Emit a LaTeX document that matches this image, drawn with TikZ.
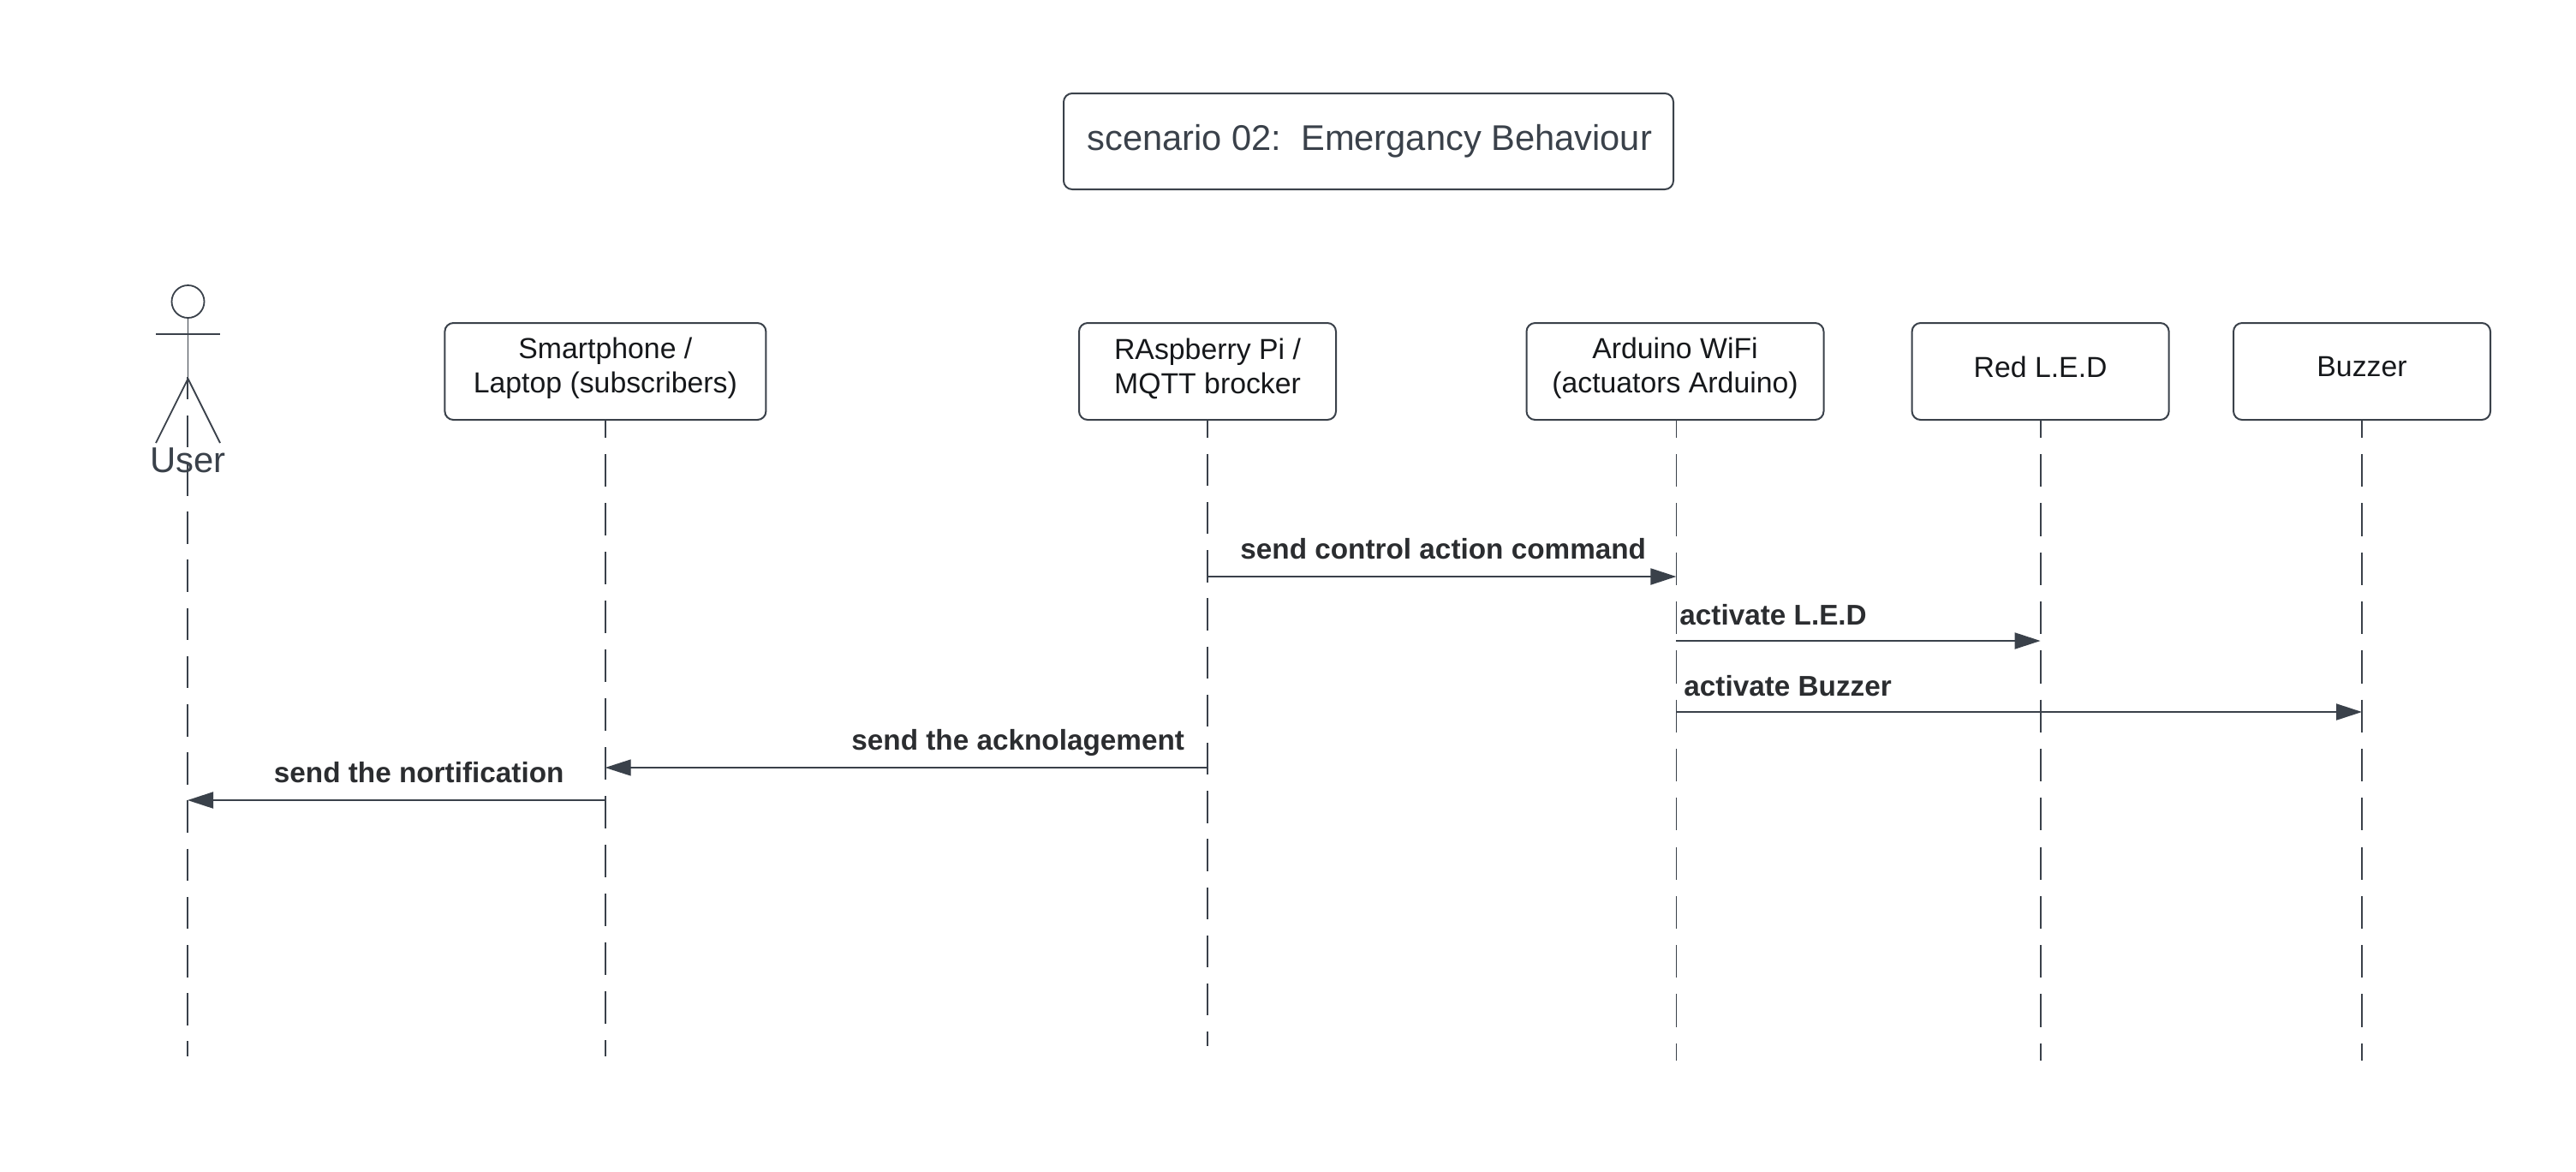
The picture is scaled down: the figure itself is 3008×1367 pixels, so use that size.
\documentclass[tikz,border=0pt]{standalone}
\usepackage{fontspec}
\setmainfont{Liberation Sans}
\usetikzlibrary{arrows.meta}
\definecolor{ink}{HTML}{3A414A}
\definecolor{boxtext}{HTML}{16181B}
\definecolor{msgtext}{HTML}{2B2D30}
\tikzset{
  px/.style={x=0.5pt,y=-0.5pt},
  rbox/.style={draw=ink,line width=1pt,rounded corners=5pt,fill=white,inner sep=0pt},
  part/.style={rbox,minimum height=56.5pt},
  parttext/.style={inner sep=0pt,align=center,text=boxtext,font=\fontsize{16.9}{20}\selectfont},
  lifeline/.style={draw=ink,line width=1pt},
  stick/.style={draw=ink,line width=0.9pt},
  msg/.style={draw=ink,line width=1pt,-{Triangle[length=15pt,width=9.5pt,fill=ink]}},
  msgthin/.style={msg,line width=0.65pt},
  msgtext/.style={inner sep=0pt,anchor=base west,text=msgtext,font=\fontsize{16.65}{20}\selectfont\bfseries},
}
\begin{document}
\begin{tikzpicture}[px]
\useasboundingbox (0,0) rectangle (3008,1367);
\fill[white] (0,0) rectangle (3008,1367);

% title
\node[rbox,minimum width=356pt,minimum height=56pt] (titlebox) at (1598,165) {};
\node[inner sep=0pt,anchor=base west,text=ink,font=\fontsize{20.82}{24}\selectfont] (titletext) at (1269,175) {scenario 02:\ \ Emergancy Behaviour};

% participants
\node[part,minimum width=187.5pt] (smart) at (706.9,433.5) {};
\node[parttext] (smarttext) at (706.9,430) {Smartphone /\\Laptop (subscribers)};
\node[part,minimum width=150pt] (pi) at (1410,433.5) {};
\node[parttext] (pitext) at (1410,430) {RAspberry Pi /\\MQTT brocker};
\node[part,minimum width=173.5pt] (ard) at (1956,433.5) {};
\node[parttext] (ardtext) at (1956,430) {Arduino WiFi\\(actuators Arduino)};
\node[part,minimum width=150pt] (led) at (2382.6,433.5) {};
\node[parttext] (ledtext) at (2382.6,428) {Red L.E.D};
\node[part,minimum width=150pt] (buz) at (2758,433.5) {};
\node[parttext] (buztext) at (2758,428) {Buzzer};

% lifeline ends and message points
\coordinate (hip) at (219.5,442);
\coordinate (lluserstart) at (219,440);
\coordinate (lluser) at (219,1233);
\coordinate (llsmart) at (707,1233);
\coordinate (llpi) at (1410,1221);
\coordinate (llard) at (1957.5,1238);
\coordinate (llled) at (2383,1238);
\coordinate (llbuz) at (2758,1238);

% lifelines
\draw[lifeline,dash pattern=on 18.75pt off 9.35pt,dash phase=5.7pt] (lluserstart) -- (lluser);
\draw[lifeline,dash pattern=on 19pt off 9.5pt,dash phase=9pt] (smart.south -| llsmart) -- (llsmart);
\draw[lifeline,dash pattern=on 18.75pt off 9.35pt,dash phase=8.75pt] (pi.south) -- (llpi);
\draw[lifeline,line width=0.75pt,dash pattern=on 19.1pt off 9.55pt,dash phase=9.1pt] (ard.south -| llard) -- (llard);
\draw[lifeline,dash pattern=on 19.1pt off 9.55pt,dash phase=9.1pt] (led.south -| llled) -- (llled);
\draw[lifeline,dash pattern=on 19.1pt off 9.55pt,dash phase=9.1pt] (buz.south) -- (llbuz);

% actor
\node[circle,draw=ink,line width=0.9pt,inner sep=0pt,minimum size=19pt] (head) at (219.5,352) {};
\coordinate (armL) at (182,390);
\coordinate (armR) at (257,390);
\coordinate (footL) at (182,517);
\coordinate (footR) at (257,517);
\draw[stick] (head.south) -- (hip);
\draw[stick] (armL) -- (armR);
\draw[stick] (footL) -- (hip) -- (footR);
\node[inner sep=0pt,anchor=base,text=ink,font=\fontsize{20.9}{24}\selectfont] (user) at (219.5,551) {User};

% messages
\coordinate (m1a) at (1410,673);  \coordinate (m1b) at (1957.4,673);
\coordinate (m2a) at (1957.4,748); \coordinate (m2b) at (2382.6,748);
\coordinate (m3a) at (1957.4,831); \coordinate (m3b) at (2758,831);
\coordinate (m4a) at (1410,896);  \coordinate (m4b) at (706.7,896);
\coordinate (m5a) at (706.7,934); \coordinate (m5b) at (219,934);
\draw[msg] (m1a) -- (m1b);
\draw[msg] (m2a) -- (m2b);
\draw[msg] (m3a) -- (m3b);
\draw[msgthin] (m4a) -- (m4b);
\draw[msg] (m5a) -- (m5b);

\node[msgtext] (l1) at (1448,652) {send control action command};
\node[msgtext] (l2) at (1961,729) {activate L.E.D};
\node[msgtext] (l3) at (1966,812) {activate Buzzer};
\node[msgtext] (l4) at (994,875) {send the acknolagement};
\node[msgtext] (l5) at (319.5,913) {send the nortification};
\end{tikzpicture}
\end{document}
